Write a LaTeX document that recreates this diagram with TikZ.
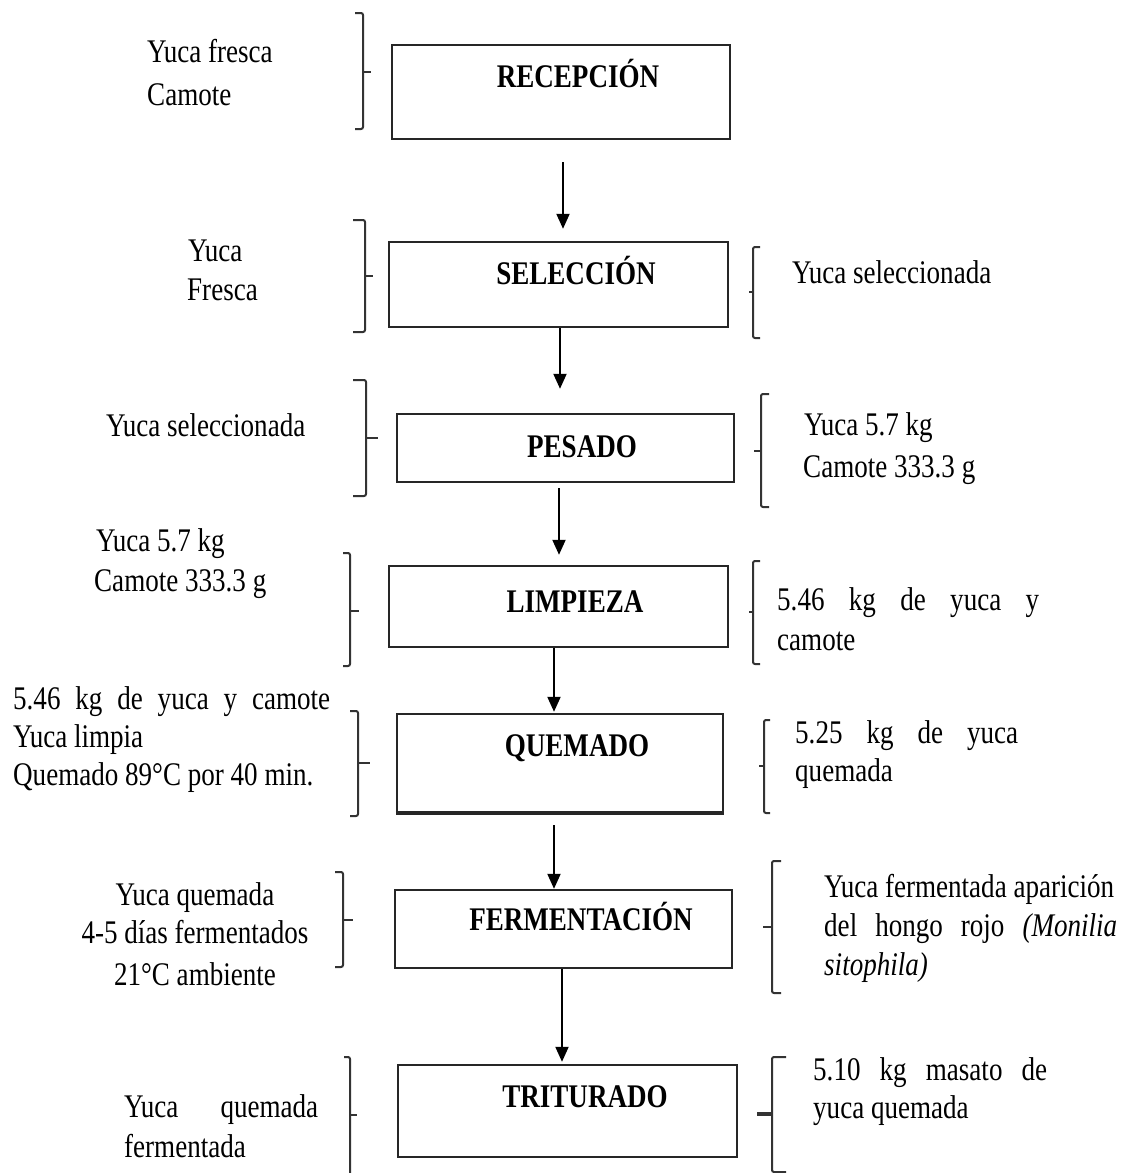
\documentclass[tikz,border=0pt]{standalone}
\usepackage{fontspec}
\setmainfont{Liberation Serif}[FakeStretch=0.82]
\usetikzlibrary{arrows.meta}
\begin{document}
\begin{tikzpicture}[x=1pt,y=-1pt,
  box/.style={draw=black!85, line width=2.4pt, rectangle, inner sep=0pt},
  title/.style={font=\fontsize{33}{40}\selectfont\bfseries, inner sep=0pt, anchor=base},
  txt/.style={font=\fontsize{33}{40}\selectfont, inner sep=0pt, anchor=base west},
  ctxt/.style={font=\fontsize{33}{40}\selectfont, inner sep=0pt, anchor=base},
  arr/.style={line width=2pt, -{Triangle[length=15pt,width=13pt]}},
  brk/.style={line width=2pt, draw=black!80, rounded corners=2pt}]
\fill[white] (0,0) rectangle (1128,1173);
\useasboundingbox (0,0) rectangle (1128,1173);

% boxes
\node[box, minimum width=338pt, minimum height=94pt] (b1) at (561,92) {};
\node[box, minimum width=339pt, minimum height=85pt] (b2) at (558.5,284.5) {};
\node[box, minimum width=337pt, minimum height=68pt] (b3) at (565.5,448) {};
\node[box, minimum width=339pt, minimum height=81pt] (b4) at (558.5,606.5) {};
\node[box, minimum width=326pt, minimum height=99pt] (b5) at (560,763.5) {};
\node[box, minimum width=337pt, minimum height=78pt] (b6) at (563.5,929) {};
\node[box, minimum width=339pt, minimum height=92pt] (b7) at (567.5,1111) {};
\draw[line width=4.5pt, black!85] ([yshift=1pt]b5.south west) -- ([yshift=1pt]b5.south east);

% titles
\node[title] (t1) at (578,87) {RECEPCIÓN};
\node[title] (t2) at (576,284) {SELECCIÓN};
\node[title] (t3) at (582,457) {PESADO};
\node[title] (t4) at (575,612) {LIMPIEZA};
\node[title] (t5) at (577,756) {QUEMADO};
\node[title] (t6) at (581,930) {FERMENTACIÓN};
\node[title] (t7) at (585,1107) {TRITURADO};

% arrows
\coordinate (ax1) at (563,0);
\coordinate (ax2) at (560,0);
\coordinate (ax3) at (559,0);
\coordinate (ax4) at (554,0);
\coordinate (ax5) at (554,0);
\coordinate (ax6) at (562,0);
\draw[arr, shorten <=22pt, shorten >=12pt] (ax1 |- b1.south) -- (ax1 |- b2.north);
\draw[arr, shorten >=24pt] (ax2 |- b2.south) -- (ax2 |- b3.north);
\draw[arr, shorten <=5pt, shorten >=10pt] (ax3 |- b3.south) -- (ax3 |- b4.north);
\draw[arr, shorten >=1pt] (ax4 |- b4.south) -- (ax4 |- b5.north);
\draw[arr, shorten <=11pt] (ax5 |- b5.south) -- (ax5 |- b6.north);
\draw[arr, shorten >=2pt] (ax6 |- b6.south) -- (ax6 |- b7.north);

% left brackets
\draw[brk] (355,13) -- (363,13) -- (363,129) -- (355,129); \draw[brk] (363,72) -- (371,72);
\draw[brk] (353,220) -- (365,220) -- (365,332) -- (353,332); \draw[brk] (365,276) -- (373,276);
\draw[brk] (353,380) -- (366,380) -- (366,496) -- (353,496); \draw[brk] (366,438) -- (378,438);
\draw[brk] (343,553) -- (350,553) -- (350,666) -- (343,666); \draw[brk] (350,611) -- (359,611);
\draw[brk] (350,711) -- (358,711) -- (358,816) -- (350,816); \draw[brk] (358,763) -- (370,763);
\draw[brk] (335,872) -- (343,872) -- (343,967) -- (335,967); \draw[brk] (343,920) -- (353,920);
\draw[brk] (344,1057) -- (350,1057) -- (350,1175); \draw[brk] (350,1115) -- (357,1115);

% right brackets
\draw[brk] (760,247) -- (753,247) -- (753,338) -- (760,338); \draw[brk] (753,292) -- (749,292);
\draw[brk] (769,394) -- (761,394) -- (761,507) -- (769,507); \draw[brk] (761,451) -- (754,451);
\draw[brk] (760,561) -- (753,561) -- (753,664) -- (760,664); \draw[brk] (753,612) -- (749,612);
\draw[brk] (770,720) -- (764,720) -- (764,813) -- (770,813); \draw[brk] (764,766) -- (759,766);
\draw[brk] (781,861) -- (772,861) -- (772,993) -- (781,993); \draw[brk] (772,927) -- (763,927);
\draw[brk] (786,1057) -- (772,1057) -- (772,1172) -- (786,1172); \draw[brk, line width=4pt] (772,1114) -- (757,1114);

% left texts
\node[txt] (l1a) at (147,62) {Yuca fresca};
\node[txt] (l1b) at (147,105) {Camote};
\node[txt] (l2a) at (188,261) {Yuca};
\node[txt] (l2b) at (187,300) {Fresca};
\node[txt] (l3) at (106,436) {Yuca seleccionada};
\node[txt] (l4a) at (96,551) {Yuca 5.7 kg};
\node[txt] (l4b) at (94,591) {Camote 333.3 g};
\node[txt] (l5a) at (13,709) {\makebox[317pt][s]{5.46 kg de yuca y camote}};
\node[txt] (l5b) at (13,747) {Yuca limpia};
\node[txt] (l5c) at (13,785) {Quemado 89°C por 40 min.};
\node[ctxt] (l6a) at (195,905) {Yuca quemada};
\node[ctxt] (l6b) at (195,943) {4-5 días fermentados};
\node[ctxt] (l6c) at (195,985) {21°C ambiente};
\node[txt] (l7a) at (124,1117) {\makebox[194pt][s]{Yuca quemada}};
\node[txt] (l7b) at (124,1157) {fermentada};

% right texts
\node[txt] (r2) at (792,283) {Yuca seleccionada};
\node[txt] (r3a) at (804,435) {Yuca 5.7 kg};
\node[txt] (r3b) at (803,477) {Camote 333.3 g};
\node[txt] (r4a) at (777,610) {\makebox[262pt][s]{5.46 kg de yuca y}};
\node[txt] (r4b) at (777,650) {camote};
\node[txt] (r5a) at (795,743) {\makebox[223pt][s]{5.25 kg de yuca}};
\node[txt] (r5b) at (795,781) {quemada};
\node[txt] (r6a) at (824,897) {Yuca fermentada aparición};
\node[txt] (r6b) at (824,936) {\makebox[293pt][s]{del hongo rojo \textit{(Monilia}}};
\node[txt] (r6c) at (824,975) {\textit{sitophila)}};
\node[txt] (r7a) at (813,1080) {\makebox[234pt][s]{5.10 kg masato de}};
\node[txt] (r7b) at (813,1118) {yuca quemada};
\end{tikzpicture}
\end{document}
